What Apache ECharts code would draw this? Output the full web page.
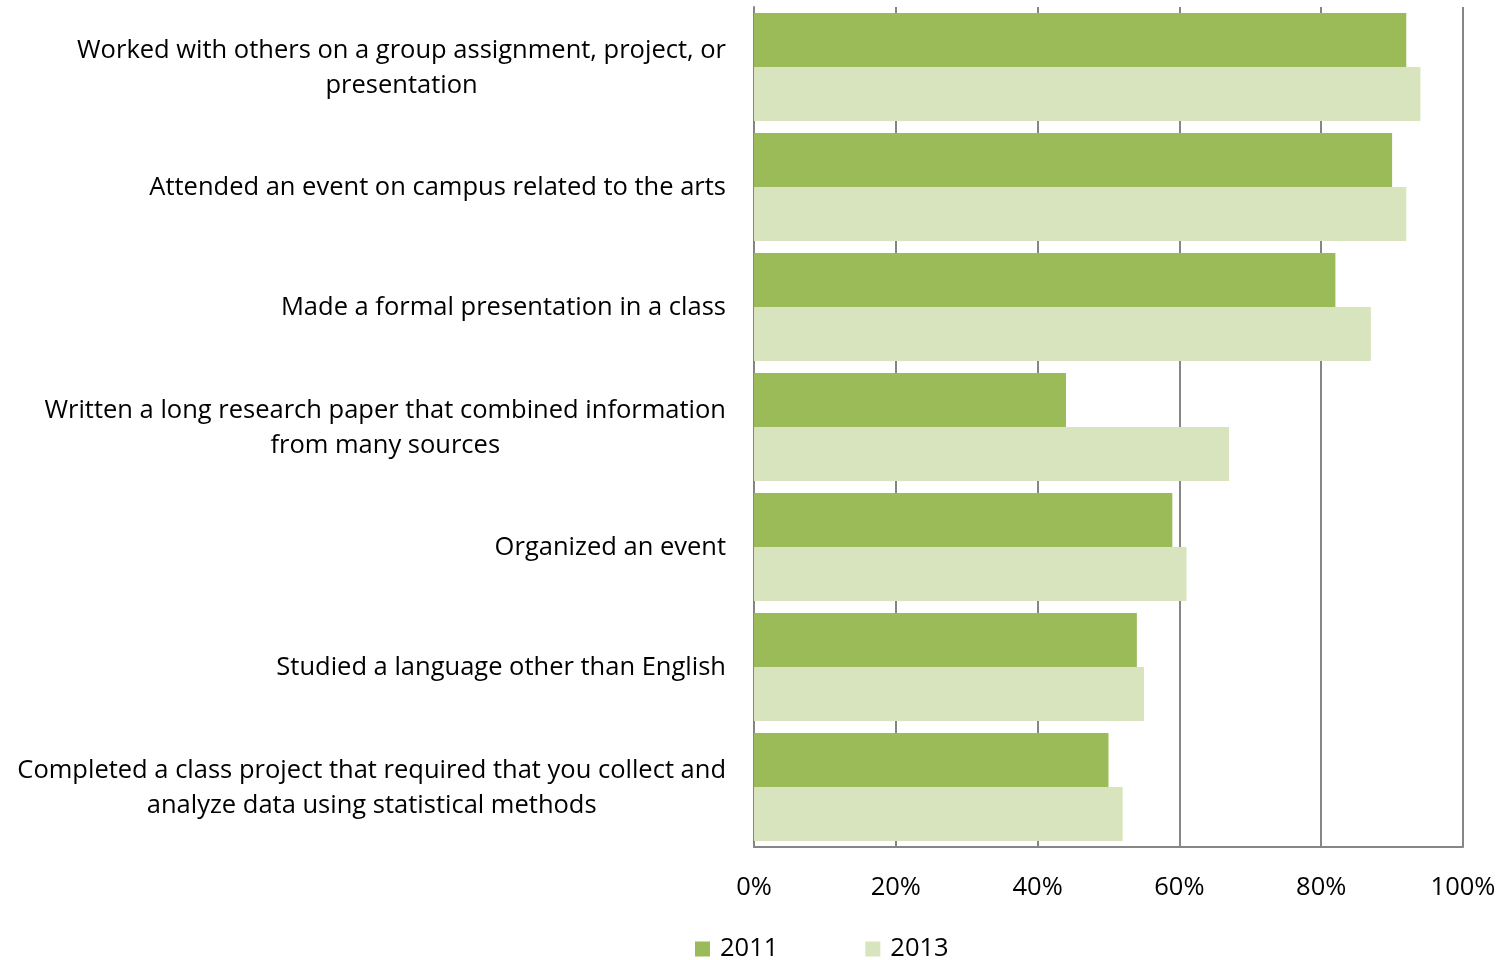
<!DOCTYPE html>
<html>
<head>
<meta charset="utf-8">
<script src="https://cdn.jsdelivr.net/npm/echarts@6/dist/echarts.min.js"></script>
<style>html,body{margin:0;padding:0;background:#fff}#c{width:1502px;height:960px}</style>
</head>
<body>
<div id="c"></div>
<script>
const categories = [
  "Worked with others on a group assignment, project, or\npresentation",
  "Attended an event on campus related to the arts",
  "Made a formal presentation in a class",
  "Written a long research paper that combined information\nfrom many sources",
  "Organized an event",
  "Studied a language other than English",
  "Completed a class project that required that you collect and\nanalyze data using statistical methods"
];
const seriesNames = ["2011", "2013"];
const values2011 = [92, 90, 82, 44, 59, 54, 50];
const values2013 = [94, 92, 87, 67, 61, 55, 52];
const xTicks = [0, 20, 40, 60, 80, 100];

const FONT = "Open Sans";
const FS = 25.5;
const chart = echarts.init(document.getElementById('c'), null, {renderer: 'canvas'});
chart.setOption({
  animation: false,
  textStyle: {fontFamily: FONT, color: '#000'},
  grid: {left: 754, right: 39, top: 7, bottom: 113, containLabel: false},
  legend: {
    data: seriesNames,
    left: 690, top: 931,
    itemWidth: 15, itemHeight: 15, itemGap: 87,
    icon: 'rect',
    textStyle: {fontFamily: FONT, fontSize: FS, color: '#000', padding: [0,0,0,5]}
  },
  xAxis: {
    type: 'value', min: 0, max: 100, interval: 20,
    axisLine: {show: true, lineStyle: {color: '#868686', width: 2}},
    axisTick: {show: false},
    splitLine: {show: true, lineStyle: {color: '#868686', width: 2}},
    axisLabel: {formatter: v => v + '%', fontSize: FS, color: '#000', margin: 28, fontFamily: FONT}
  },
  yAxis: {
    type: 'category', inverse: true, data: categories,
    axisLine: {show: true, lineStyle: {color: '#868686', width: 2}},
    axisTick: {show: false},
    axisLabel: {
      margin: 28, fontSize: FS, color: '#000', fontFamily: FONT, lineHeight: 35,
      padding: [2, 0, 0, 0],
      formatter: v => v.split('\n').map(s => '{c|' + s + '}').join('\n'),
      rich: {c: {align: 'center', fontSize: FS, lineHeight: 35, fontFamily: FONT, color: '#000'}}
    }
  },
  series: [
    {name: seriesNames[0], type: 'bar', data: values2011, barGap: '0%', barCategoryGap: '10%', itemStyle: {color: '#9BBB59'}},
    {name: seriesNames[1], type: 'bar', data: values2013, barGap: '0%', barCategoryGap: '10%', itemStyle: {color: '#D7E4BD'}}
  ]
});
</script>
</body>
</html>
